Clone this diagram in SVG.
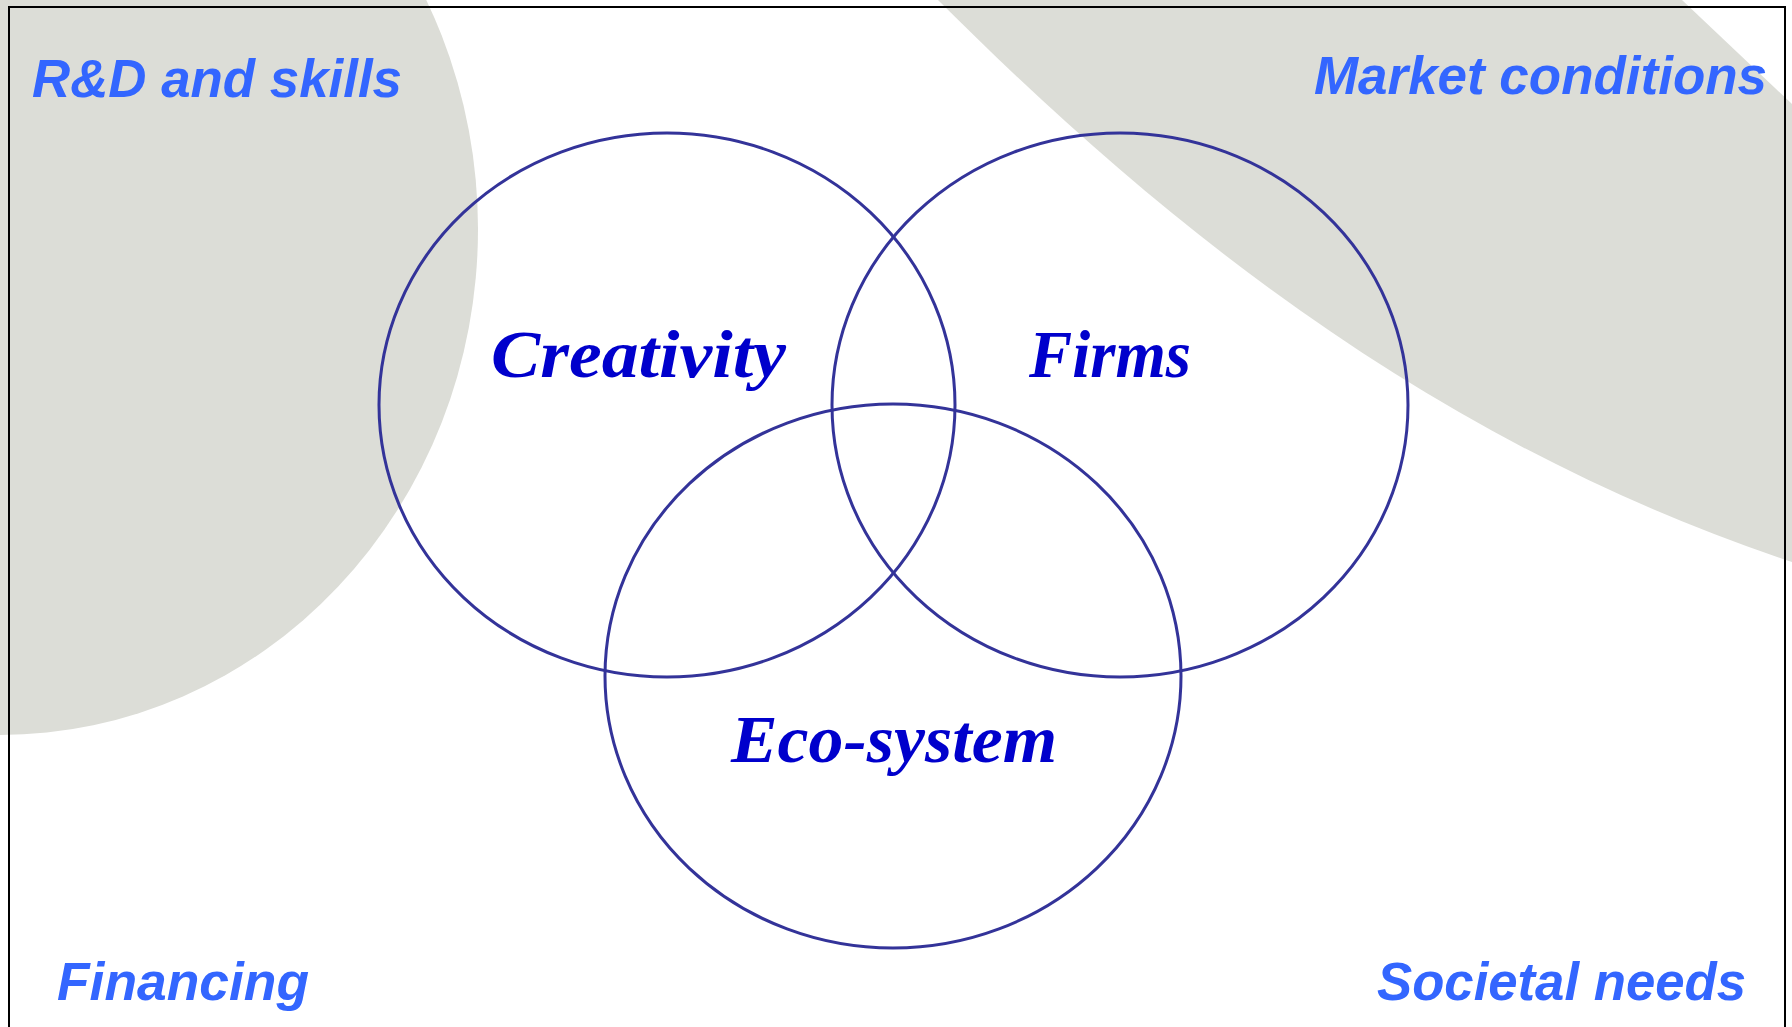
<svg xmlns="http://www.w3.org/2000/svg" width="1792" height="1027" viewBox="0 0 1792 1027">
<style>
.bg{fill:#DCDDD7;stroke:none}
.venn{fill:none;stroke:#333399;stroke-width:3}
.outer{font-family:"Liberation Sans",Arial,sans-serif;font-weight:bold;font-style:italic;font-size:54px;fill:#3366FF}
.inner{font-family:"Liberation Serif","Times New Roman",serif;font-weight:bold;font-style:italic;font-size:68px;fill:#0000CC}
</style>
<rect x="0" y="0" width="1792" height="1027" fill="#FFFFFF"/>
<g id="background">
<ellipse class="bg" cx="0" cy="229" rx="478" ry="506"/>
<path class="bg" d="M938 0 C1172.7 234.7 1440 444.7 1792 562 L1792 104 L1682 0 Z"/>
</g>
<rect id="frame" x="9" y="7" width="1776" height="1040" fill="none" stroke="#000000" stroke-width="2"/>
<g id="connectors"/>
<g id="creativity">
<ellipse class="venn" cx="667" cy="405" rx="288" ry="272"/>
<text class="inner" x="491" y="377" textLength="295" lengthAdjust="spacingAndGlyphs">Creativity</text>
</g>
<g id="firms">
<ellipse class="venn" cx="1120" cy="405" rx="288" ry="272"/>
<text class="inner" x="1029" y="377" textLength="162" lengthAdjust="spacingAndGlyphs">Firms</text>
</g>
<g id="ecosystem">
<ellipse class="venn" cx="893" cy="676" rx="288" ry="272"/>
<text class="inner" x="731" y="762" textLength="326" lengthAdjust="spacingAndGlyphs">Eco-system</text>
</g>
<g id="rd-skills"><text class="outer" x="32" y="97" textLength="370" lengthAdjust="spacingAndGlyphs">R&amp;D and skills</text></g>
<g id="market-conditions"><text class="outer" x="1314" y="94" textLength="453" lengthAdjust="spacingAndGlyphs">Market conditions</text></g>
<g id="financing"><text class="outer" x="57" y="1000" textLength="252" lengthAdjust="spacingAndGlyphs">Financing</text></g>
<g id="societal-needs"><text class="outer" x="1377" y="1000" textLength="369" lengthAdjust="spacingAndGlyphs">Societal needs</text></g>
</svg>
